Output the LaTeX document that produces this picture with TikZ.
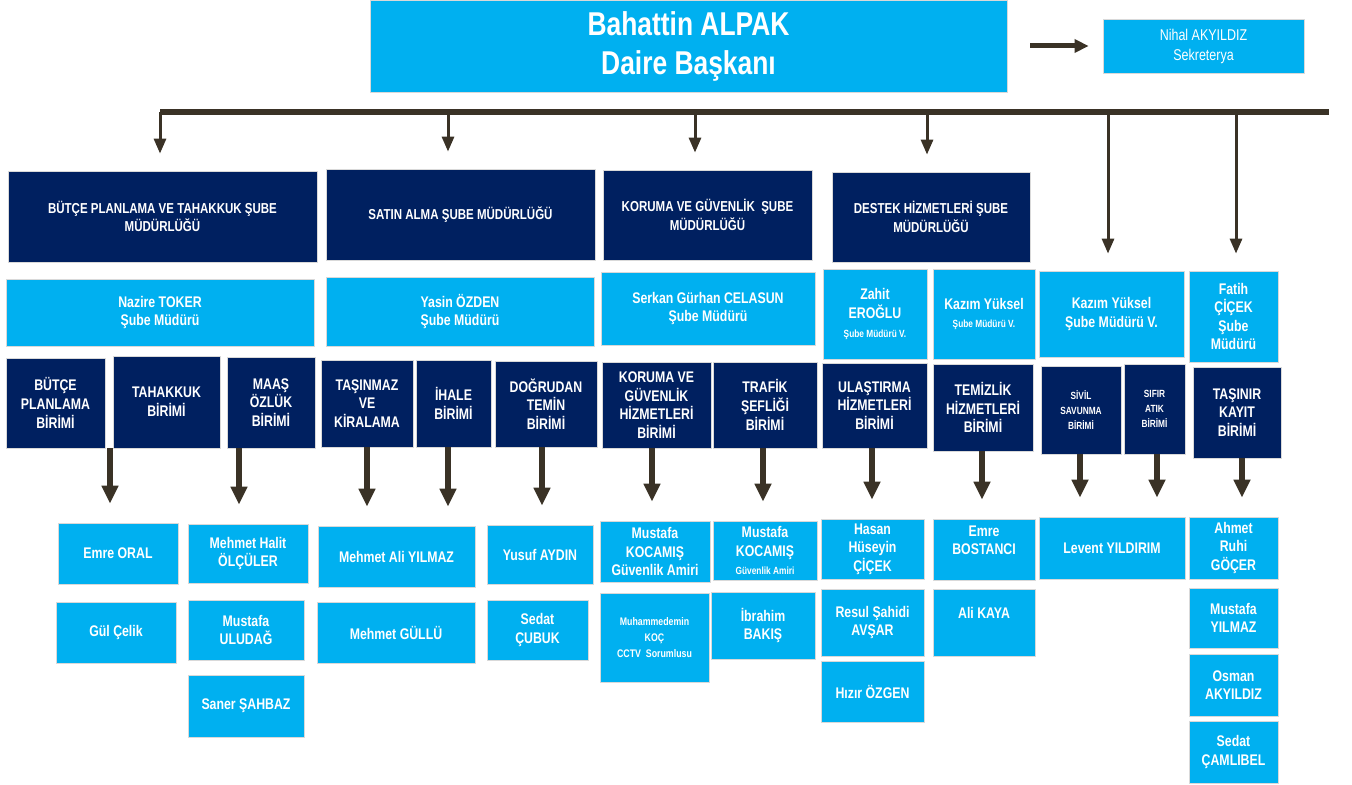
\documentclass[tikz,border=0pt]{standalone}
\usepackage{fontspec}
\setmainfont{Liberation Sans}[FakeStretch=0.8]
\usepackage{xcolor}
\usepackage{tikz}
\usetikzlibrary{arrows.meta,positioning,calc}
\definecolor{lblue}{RGB}{0,176,240}
\definecolor{navy}{RGB}{0,32,96}
\definecolor{arrowc}{RGB}{58,50,38}
\newcommand{\smalltxt}{\fontsize{5.2}{7.5}\selectfont}

\begin{document}
\begin{tikzpicture}[x=0.5pt, y=-0.5pt]
  % ------- styles -------
  \tikzset{wh/.style 2 args={minimum width=#1*0.5pt, minimum height=#2*0.5pt}}
  \tikzstyle{box}=[draw=black!15, line width=0.4pt, align=center, inner sep=0pt, text=white, font=\bfseries\fontsize{7.7}{9.3}\selectfont]
  \tikzstyle{lbox}=[box, fill=lblue]
  \tikzstyle{nbox}=[box, fill=navy]
  \tikzstyle{dept}=[nbox, font=\bfseries\fontsize{7.2}{9.3}\selectfont]
  \tikzstyle{bar}=[draw=arrowc, line width=3pt]
  \tikzstyle{drop}=[draw=arrowc, line width=1.5pt, -{Triangle[length=7.5pt, width=6pt]}, shorten >=8.5pt]
  \tikzstyle{bigarrow}=[draw=arrowc, line width=2.6pt, -{Triangle[length=9pt, width=8pt]}, shorten >=9.5pt]

  \useasboundingbox (0,0) rectangle (1352,785);

  % ------- top -------
  \node[lbox, wh={637}{92}, font=\bfseries\fontsize{16.5}{19.5}\selectfont] (head) at (688.5,46) {Bahattin ALPAK\\Daire Başkanı};
  \node[lbox, wh={201}{54}, font=\fontsize{7.8}{10}\selectfont] (sek) at (1203.5,46) {Nihal AKYILDIZ\\Sekreterya};

  % ------- departments -------
  \node[dept, wh={309}{91}] (dbut) at (162.5,216.5) {BÜTÇE PLANLAMA VE TAHAKKUK ŞUBE\\MÜDÜRLÜĞÜ};
  \node[dept, wh={269}{91}] (dsat) at (460.5,214.5) {SATIN ALMA ŞUBE MÜDÜRLÜĞÜ};
  \node[dept, wh={209}{90}] (dkor) at (707.5,215) {KORUMA VE GÜVENLİK~~ŞUBE\\MÜDÜRLÜĞÜ};
  \node[dept, wh={198}{90}] (ddes) at (931,217) {DESTEK HİZMETLERİ ŞUBE\\MÜDÜRLÜĞÜ};

  % ------- managers -------
  \node[lbox, wh={308}{67}] (nazire) at (160,312.5) {Nazire TOKER\\Şube Müdürü};
  \node[lbox, wh={268}{69}] (yasin) at (460,311.5) {Yasin ÖZDEN\\Şube Müdürü};
  \node[lbox, wh={214}{73}] (serkan) at (708,308.5) {Serkan Gürhan CELASUN\\Şube Müdürü};
  \node[lbox, wh={104}{90}] (zahit) at (875,314) {Zahit\\EROĞLU\\{\smalltxt Şube Müdürü V.}};
  \node[lbox, wh={102}{90}] (kazim) at (984,314) {Kazım Yüksel\\{\smalltxt Şube Müdürü V.}};
  \node[lbox, wh={145}{86}] (kazimv) at (1111.5,314) {Kazım Yüksel\\Şube Müdürü V.};
  \node[lbox, wh={89}{91}] (fatih) at (1233.5,316.5) {Fatih\\ÇİÇEK\\Şube\\Müdürü};

  % ------- units -------
  \node[nbox, wh={99}{90}] (ubut) at (55.5,403) {BÜTÇE\\PLANLAMA\\BİRİMİ};
  \node[nbox, wh={107}{92}] (utah) at (166.5,402) {TAHAKKUK\\BİRİMİ};
  \node[nbox, wh={88}{91}] (umaas) at (271,402.5) {MAAŞ\\ÖZLÜK\\BİRİMİ};
  \node[nbox, wh={92}{87}] (utas) at (367,403.5) {TAŞINMAZ\\VE\\KİRALAMA};
  \node[nbox, wh={75}{87}] (uihale) at (453.5,403.5) {İHALE\\BİRİMİ};
  \node[nbox, wh={102}{86}] (udog) at (546,404) {DOĞRUDAN\\TEMİN\\BİRİMİ};
  \node[nbox, wh={109}{86}] (ukor) at (656.5,405) {KORUMA VE\\GÜVENLİK\\HİZMETLERİ\\BİRİMİ};
  \node[nbox, wh={104}{86}] (utraf) at (765,405) {TRAFİK\\ŞEFLİĞİ\\BİRİMİ};
  \node[nbox, wh={105}{85}] (ulas) at (874.5,405.5) {ULAŞTIRMA\\HİZMETLERİ\\BİRİMİ};
  \node[nbox, wh={100}{87}] (utem) at (983,407.5) {TEMİZLİK\\HİZMETLERİ\\BİRİMİ};
  \node[nbox, wh={80}{88}, font=\bfseries\smalltxt] (usivil) at (1081,410) {SİVİL\\SAVUNMA\\BİRİMİ};
  \node[nbox, wh={61}{90}, font=\bfseries\smalltxt] (usifir) at (1154.5,409) {SIFIR\\ATIK\\BİRİMİ};
  \node[nbox, wh={88}{91}] (utasinir) at (1237,412.5) {TAŞINIR\\KAYIT\\BİRİMİ};

  % ------- staff -------
  \node[lbox, wh={120}{61}] (emre) at (118,553.5) {Emre ORAL};
  \node[lbox, wh={120}{61}] (gul) at (116,632.5) {Gül Çelik};
  \node[lbox, wh={120}{59}] (halit) at (248,553.5) {Mehmet Halit\\ÖLÇÜLER};
  \node[lbox, wh={116}{60}] (uludag) at (246,630) {Mustafa\\ULUDAĞ};
  \node[lbox, wh={116}{62}] (saner) at (246,706) {Saner ŞAHBAZ};
  \node[lbox, wh={157}{61}] (mali) at (396.5,556.5) {Mehmet Ali YILMAZ};
  \node[lbox, wh={158}{61}] (gullu) at (396,632.5) {Mehmet GÜLLÜ};
  \node[lbox, wh={106}{59}] (yusuf) at (540,554.5) {Yusuf AYDIN};
  \node[lbox, wh={101}{60}] (cubuk) at (537.5,630) {Sedat\\ÇUBUK};
  \node[lbox, wh={110}{61}] (kocamis) at (655,551.5) {Mustafa\\KOCAMIŞ\\Güvenlik Amiri};
  \node[lbox, wh={109}{89}, font=\bfseries\fontsize{5.5}{8}\selectfont] (koc) at (654.5,637.5) {Muhammedemin\\KOÇ\\CCTV~~Sorumlusu};
  \node[lbox, wh={104}{59}] (kocamisb) at (765,550.5) {Mustafa\\KOCAMIŞ\\{\smalltxt Güvenlik Amiri}};
  \node[lbox, wh={104}{67}] (bakis) at (763,625.5) {İbrahim\\BAKIŞ};
  \node[lbox, wh={103}{60}] (hasan) at (872.5,549) {Hasan\\Hüseyin\\ÇİÇEK};
  \node[lbox, wh={103}{67}] (avsar) at (872.5,622.5) {Resul Şahidi\\AVŞAR};
  \node[lbox, wh={103}{61}] (ozgen) at (872.5,691.5) {Hızır ÖZGEN};
  \node[lbox, wh={102}{61}] (bostanci) at (984,549.5) {Emre\\BOSTANCI\\\mbox{}};
  \node[lbox, wh={102}{67}] (kaya) at (984,622.5) {Ali KAYA\\\mbox{}};
  \node[lbox, wh={146}{62}] (levent) at (1112,548) {Levent YILDIRIM};
  \node[lbox, wh={89}{62}] (gocer) at (1233.5,548) {Ahmet\\Ruhi\\GÖÇER};
  \node[lbox, wh={89}{60}] (yilmaz) at (1233.5,618) {Mustafa\\YILMAZ};
  \node[lbox, wh={89}{62}] (osman) at (1233.5,685) {Osman\\AKYILDIZ};
  \node[lbox, wh={89}{62}] (camlibel) at (1233.5,752) {Sedat\\ÇAMLIBEL};

  % ------- arrows -------
  \draw[draw=arrowc, line width=2.5pt, -{Triangle[length=7pt, width=6.5pt]}, shorten <=11.5pt, shorten >=7pt] (head) -- (sek);

  \coordinate (barl) at (160,112);
  \coordinate (barr) at (1329,112);
  \draw[bar] (barl) -- (barr);
  \foreach \x/\n in {160/dbut, 448/dsat, 695/dkor, 927/ddes, 1108/kazimv, 1236/fatih}
    \draw[drop] (barl -| \x,0) -- (\n.north -| \x,0);

  \foreach \x/\u/\p in {110/ubut/emre, 239/umaas/halit, 367/utas/mali, 448/uihale/mali, 542/udog/yusuf, 652/ukor/kocamis, 763/utraf/kocamisb, 872/ulas/hasan, 982/utem/bostanci, 1080/usivil/levent, 1157/usifir/levent, 1242/utasinir/gocer}
    \draw[bigarrow] (\u.south -| \x,0) -- (\p.north -| \x,0);

\end{tikzpicture}
\end{document}
